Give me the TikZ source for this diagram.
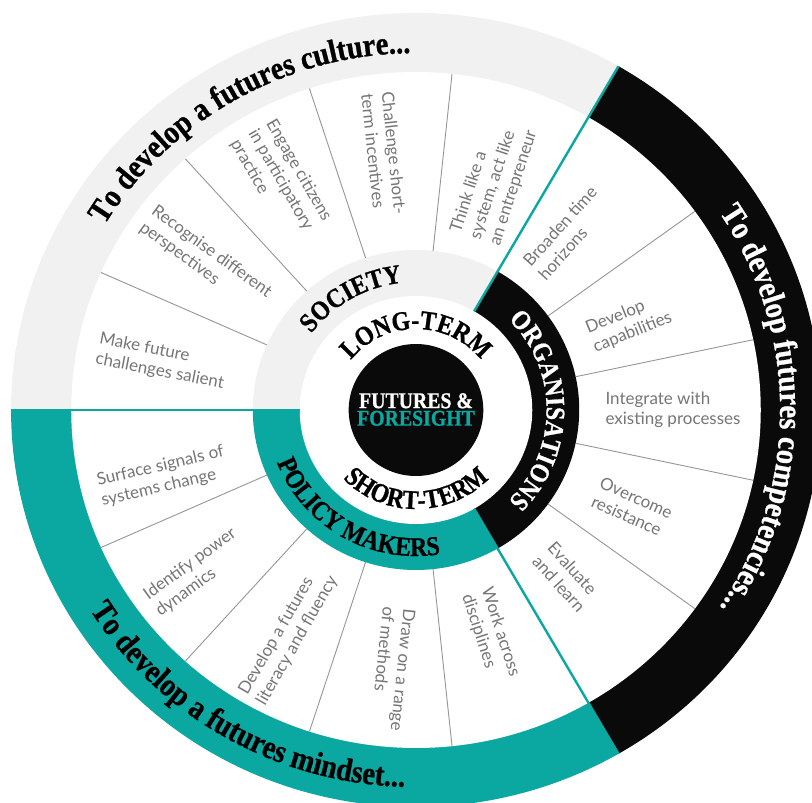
\documentclass[tikz,border=0pt]{standalone}
\usepackage{fontspec}
\usetikzlibrary{decorations.text}
\newfontfamily\headfont{Liberation Serif}[FakeStretch=0.88,FakeBold=0.9]
\newfontfamily\itemfont{Lato}
\definecolor{ffteal}{RGB}{11,167,161}
\definecolor{ffgray}{RGB}{241,241,241}
\definecolor{ffblack}{RGB}{10,10,10}
\definecolor{fftext}{RGB}{118,118,118}
\definecolor{ffline}{RGB}{150,150,150}
\newcommand\ffouter{\headfont\bfseries\fontsize{32.5}{32}\selectfont}
\newcommand\ffmid{\headfont\bfseries\fontsize{27}{27}\selectfont}
\begin{document}
\begin{tikzpicture}[x=1pt,y=1pt,xscale=1.02,
  itemtext/.style={font=\itemfont\fontsize{17}{20.5}\selectfont, text=fftext, align=left, inner sep=0pt},
  itemline/.style={draw=ffline, line width=0.9pt},
  tealline/.style={draw=ffteal, line width=2.4pt}]
\useasboundingbox (-407.843,-393) rectangle (388.235,410);
% outer sectors
\fill[ffgray] (0,0) -- (60:397) arc[start angle=60,end angle=180,radius=397] -- cycle;
\fill[ffblack] (0,0) -- (-60:397) arc[start angle=-60,end angle=60,radius=397] -- cycle;
\fill[ffteal] (0,0) -- (180:397) arc[start angle=180,end angle=300,radius=397] -- cycle;
\fill[white] (0,0) circle[radius=338];
% middle ring
\fill[ffgray] (0,0) -- (60:160) arc[start angle=60,end angle=180,radius=160] -- cycle;
\fill[ffblack] (0,0) -- (-60:160) arc[start angle=-60,end angle=60,radius=160] -- cycle;
\fill[ffteal] (0,0) -- (180:160) arc[start angle=180,end angle=300,radius=160] -- cycle;
\fill[white] (0,0) circle[radius=114];
\fill[ffblack] (0,0) circle[radius=66];
% item separators
\foreach \a in {84,108,132,156, 36,12,-12,-36, 204,228,252,276}
  \draw[itemline] (\a:160) -- (\a:338);
% section boundaries
\foreach \a in {60,180,300}
  \draw[tealline] (\a:114) -- (\a:397);
% outer ring texts
\path[decorate, decoration={text along path, text align=center, text color=black,
  text={|\ffouter|To develop a futures culture...}}]
  (170:357) arc[start angle=170, end angle=70, radius=357];
\path[decorate, decoration={text along path, text align=center, text color=white,
  text={|\ffouter|To develop futures competencies...}}]
  (55:357) arc[start angle=55, end angle=-55, radius=357];
\path[decorate, decoration={text along path, text align=center, text color=black,
  text={|\ffouter|To develop a futures mindset...}}]
  (190:377) arc[start angle=190, end angle=290, radius=377];
% middle ring texts
\path[decorate, decoration={text along path, text align=center, text color=black,
  text={|\ffmid|SOCIETY}}]
  (175:128) arc[start angle=175, end angle=65, radius=128];
\path[decorate, decoration={text along path, text align=center, text color=white,
  text={|\ffmid|ORGANISATIONS}}]
  (80:128) arc[start angle=80, end angle=-80, radius=128];
\path[decorate, decoration={text along path, text align=center, text color=black,
  text={|\ffmid|POLICY MAKERS}}]
  (165:146) arc[start angle=165, end angle=315, radius=146];
% inner ring texts
\path[decorate, decoration={text along path, text align=center, text color=black,
  text={|\ffmid|LONG-TERM}}]
  (175:81) arc[start angle=175, end angle=5, radius=81];
\path[decorate, decoration={text along path, text align=center, text color=black,
  text={|\ffmid|SHORT-TERM}}]
  (185:99) arc[start angle=185, end angle=355, radius=99];
% centre title
\node[font=\headfont\bfseries\fontsize{22.5}{17.5}\selectfont, align=center, inner sep=0pt] (title) at (0,0.5)
  {\textcolor{white}{FUTURES \&}\\\textcolor{ffteal}{FORESIGHT}};
% society items
\node[itemtext, rotate=-11] (s1) at (169:254) {Make future\\challenges salient};
\node[itemtext, rotate=-36] (s2) at (144:255) {Recognise different\\perspectives};
\node[itemtext, rotate=-60] (s3) at (120:265) {Engage citizens\\in participatory\\practice};
\node[itemtext, rotate=-84] (s4) at (97:258) {Challenge short-\\term incentives};
\node[itemtext, rotate=72] (s5) at (71.5:241) {Think like a\\system, act like\\an entrepreneur};
% organisation items
\node[itemtext, rotate=48] (o1) at (50:231) {Broaden time\\horizons};
\node[itemtext, rotate=22] (o2) at (22.6:226) {Develop\\capabilities};
\node[itemtext] (o3) at (0:252) {Integrate with\\existing processes};
\node[itemtext, rotate=-24] (o4) at (-24.6:233) {Overcome\\resistance};
\node[itemtext, rotate=-48] (o5) at (-48.5:223) {Evaluate\\and learn};
% policy maker items
\node[itemtext, rotate=13] (p1) at (195:257) {Surface signals of\\systems change};
\node[itemtext, rotate=36] (p2) at (217:270) {Identify power\\dynamics};
\node[itemtext, rotate=60] (p3) at (241:258) {Develop a futures\\literacy and fluency};
\node[itemtext, rotate=-96] (p4) at (265:260) {Draw on a range\\of methods};
\node[itemtext, rotate=-72] (p5) at (288:237) {Work across\\disciplines};
\end{tikzpicture}
\end{document}
